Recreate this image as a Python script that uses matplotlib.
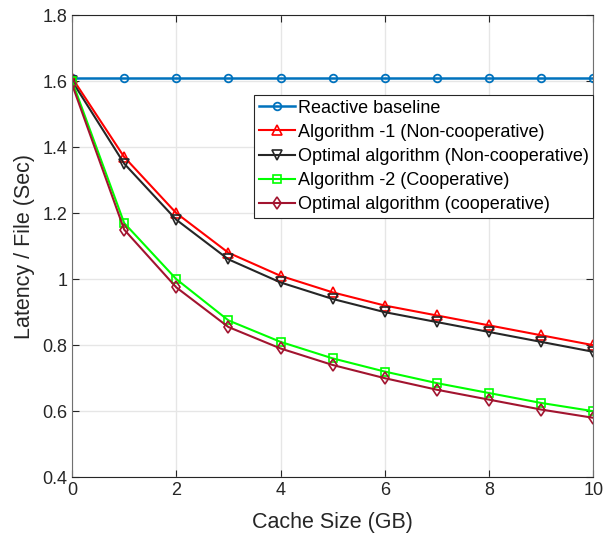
import matplotlib.pyplot as plt
import numpy as np

plt.rcParams['font.family'] = ['Liberation Sans', 'DejaVu Sans']

cache_size = [0, 1, 2, 3, 4, 5, 6, 7, 8, 9, 10]
reactive = [1.61] * 11
alg1_noncoop = [1.61, 1.37, 1.20, 1.08, 1.01, 0.96, 0.92, 0.89, 0.86, 0.83, 0.80]
opt_noncoop = [1.60, 1.35, 1.18, 1.06, 0.99, 0.94, 0.90, 0.87, 0.84, 0.81, 0.78]
alg2_coop = [1.60, 1.17, 1.00, 0.875, 0.81, 0.76, 0.72, 0.685, 0.655, 0.625, 0.60]
opt_coop = [1.59, 1.15, 0.975, 0.855, 0.79, 0.74, 0.70, 0.665, 0.635, 0.605, 0.58]

fig = plt.figure(figsize=(6.16, 5.38), dpi=100)
ax = fig.add_axes([0.117, 0.113, 0.846, 0.859])

ax.plot(cache_size, reactive, color='#0072BD', marker='o', mfc='none', ms=5.5, mew=1.3, lw=1.8, label='Reactive baseline')
ax.plot(cache_size, alg1_noncoop, color='#FF0000', marker='^', mfc='none', ms=6.5, mew=1.2, lw=1.5, label='Algorithm -1 (Non-cooperative)')
ax.plot(cache_size, opt_noncoop, color='#262626', marker='v', mfc='none', ms=6.5, mew=1.2, lw=1.5, label='Optimal algorithm (Non-cooperative)')
ax.plot(cache_size, alg2_coop, color='#00FF00', marker='s', mfc='none', ms=5.5, mew=1.2, lw=1.5, label='Algorithm -2 (Cooperative)')
ax.plot(cache_size, opt_coop, color='#A2142F', marker='d', mfc='none', ms=6, mew=1.2, lw=1.5, label='Optimal algorithm (cooperative)')

ax.set_xlim(0, 10)
ax.set_ylim(0.4, 1.8)
ax.set_xticks(np.arange(0, 11, 2))
ax.set_yticks(np.arange(0.4, 1.81, 0.2))
ax.set_yticklabels(['0.4', '0.6', '0.8', '1', '1.2', '1.4', '1.6', '1.8'])
ax.tick_params(direction='in', labelsize=13, colors='#262626', length=5, top=True, right=True)
ax.grid(True, color='#E6E6E6', lw=1)
for s in ax.spines.values():
    s.set_color('#262626')
    s.set_linewidth(0.8)
ax.spines['left'].set_color('#707070')
ax.spines['right'].set_color('#707070')
ax.set_xlabel('Cache Size (GB)', fontsize=15.5, color='#262626', labelpad=9)
ax.set_ylabel('Latency / File (Sec)', fontsize=15.5, color='#262626', labelpad=5)

leg = ax.legend(loc='upper right', bbox_to_anchor=(1.0, 0.827), fontsize=13, fancybox=False,
                edgecolor='#262626', framealpha=1, handlelength=2.0, handletextpad=0.15,
                borderpad=0.25, labelspacing=0.4, borderaxespad=0)
leg.get_frame().set_linewidth(0.8)

fig.savefig('out.png', dpi=100)
